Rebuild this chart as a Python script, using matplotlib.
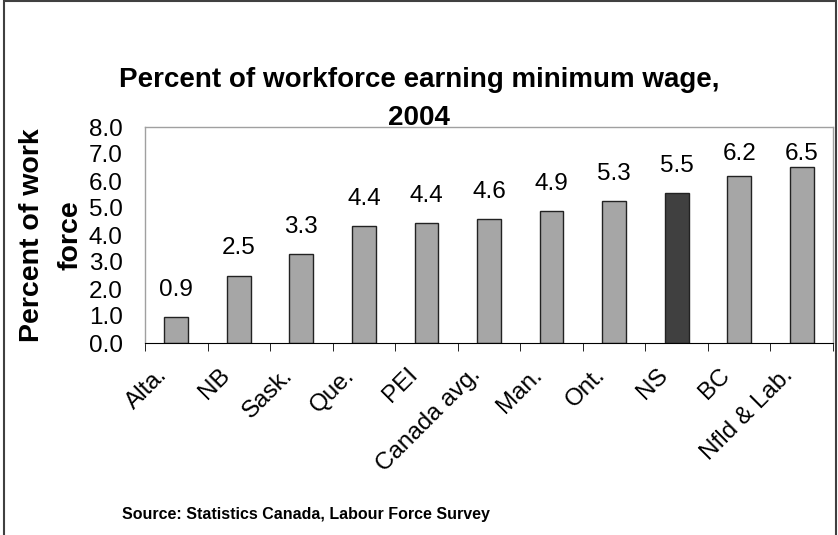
import numpy as np
import matplotlib.pyplot as plt
import matplotlib.transforms as mtransforms
from matplotlib.patches import Rectangle

plt.rcParams['font.family'] = ['Liberation Sans', 'DejaVu Sans']

provinces = ['Alta.', 'NB', 'Sask.', 'Que.', 'PEI', 'Canada avg.', 'Man.',
             'Ont.', 'NS', 'BC', 'Nfld & Lab.']
values = [0.95, 2.5, 3.3, 4.35, 4.45, 4.6, 4.9, 5.25, 5.55, 6.2, 6.5]
labels = ['0.9', '2.5', '3.3', '4.4', '4.4', '4.6', '4.9', '5.3', '5.5', '6.2', '6.5']
highlight = 'NS'

fig = plt.figure(figsize=(8.38, 5.35), dpi=100)
ax = fig.add_axes([145 / 838, 1 - 343 / 535, 688 / 838, 216 / 535])

x = np.arange(len(provinces))
colors = ['#404040' if p == highlight else '#a6a6a6' for p in provinces]
ax.bar(x, values, width=0.38, color=colors, edgecolor='#222222', linewidth=1.0)
# labels near the top get pushed down, as in the original
for xi, v, lab in zip(x, values, labels):
    ax.text(xi, min(v + 1.0, 7.0), lab, ha='center', va='center', fontsize=17.5)

ax.set_xlim(-0.5, len(provinces) - 0.5)
ax.set_ylim(0, 8)
ax.set_yticks(np.arange(0, 8.1, 1.0))
ax.set_yticklabels([f'{t:.1f}' for t in np.arange(0, 8.1, 1.0)], fontsize=17.5)
ax.tick_params(axis='y', length=0, pad=16)

ax.set_xticks(x)
ax.set_xticklabels(provinces, rotation=45, ha='right', rotation_mode='anchor', fontsize=17.5)
ax.tick_params(axis='x', length=0, pad=15)
shift = mtransforms.ScaledTranslation(-0.2, 0, fig.dpi_scale_trans)
for lbl in ax.get_xticklabels():
    lbl.set_transform(lbl.get_transform() + shift)
ax.set_xticks(np.arange(-0.5, len(provinces), 1.0), minor=True)
ax.tick_params(axis='x', which='minor', length=6, direction='out', color='black')

for s in ['top', 'right', 'left']:
    ax.spines[s].set_color('#a0a0a0')
    ax.spines[s].set_linewidth(1.0)
ax.spines['bottom'].set_color('black')

ax.set_ylabel('Percent of work\nforce', fontsize=20.5, fontweight='bold', linespacing=1.6)
ax.yaxis.set_label_coords(-0.09, 0.5)

fig.text(0.5, 1 - 80 / 535, 'Percent of workforce earning minimum wage,', ha='center',
         va='center', fontsize=20, fontweight='bold')
fig.text(0.5, 1 - 118 / 535, '2004', ha='center', va='center', fontsize=20, fontweight='bold')
fig.text(306 / 838, 1 - 515 / 535, 'Source: Statistics Canada, Labour Force Survey', ha='center',
         va='center', fontsize=11.5, fontweight='bold')

fig.patches.append(Rectangle((4 / 838, -0.05), 832 / 838, 1.05 - 1 / 535, transform=fig.transFigure,
                             fill=False, edgecolor='#404040', linewidth=1.5))

fig.savefig('out.png', dpi=100)
